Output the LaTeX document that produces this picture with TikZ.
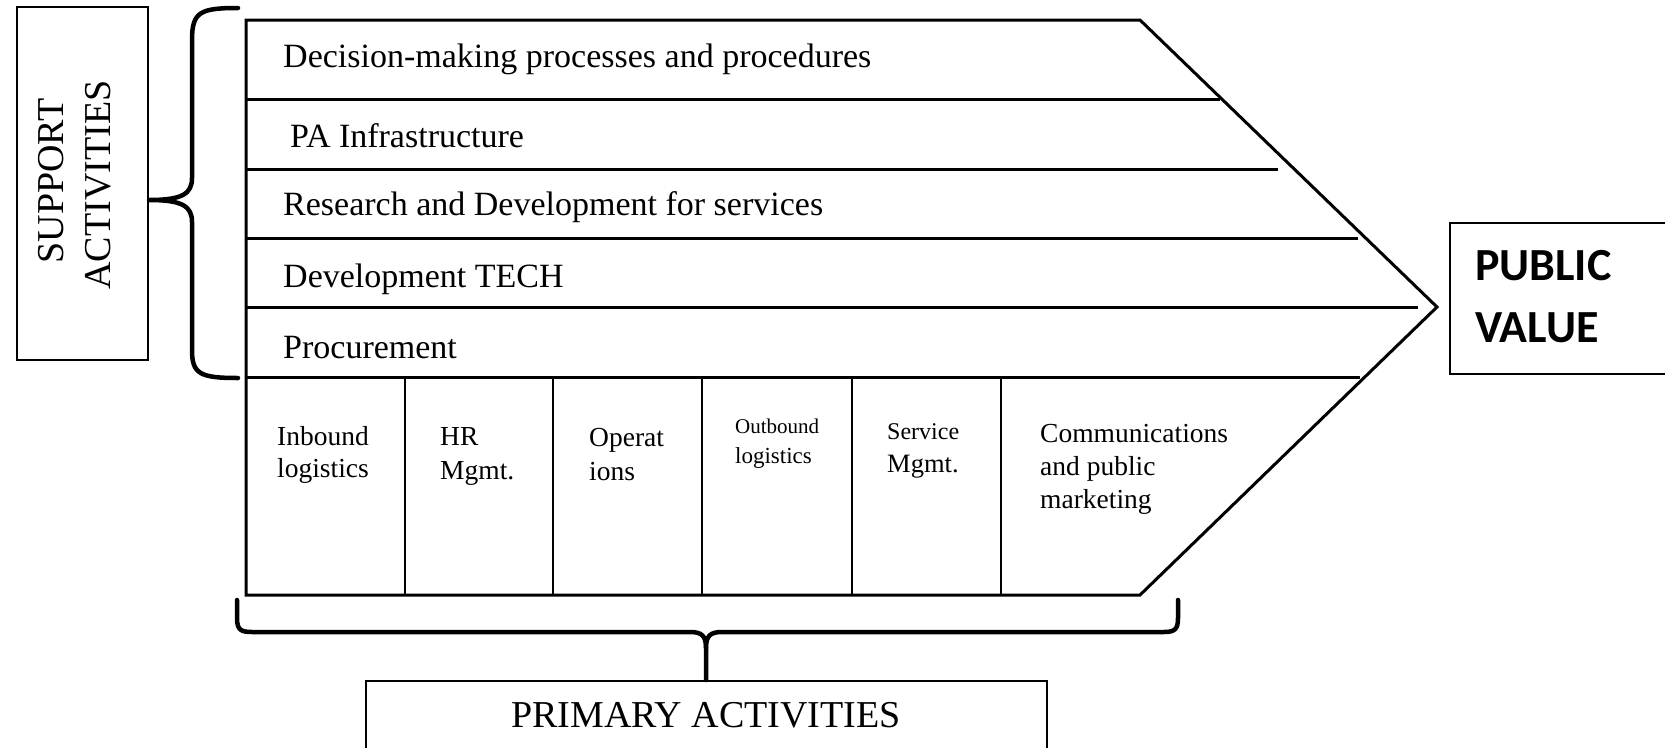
\documentclass[tikz,border=0pt]{standalone}
\usepackage{fontspec}
\setmainfont{Liberation Serif}
\newfontfamily\pvfont{Carlito}
\tikzset{
  frame/.style={draw, line width=2pt, inner sep=0pt},
  chain/.style={line width=3pt, line join=miter},
  divider/.style={line width=3pt},
  brace/.style={line width=4.5pt, line cap=round, line join=round},
  rowtxt/.style={anchor=base west, inner sep=0pt, font=\fontsize{34}{40}\selectfont},
  coltxt/.style={anchor=base west, inner sep=0pt, font=\fontsize{27.5}{33}\selectfont},
  bigtxt/.style={inner sep=0pt, font=\fontsize{38}{46}\selectfont},
  pvtxt/.style={anchor=base west, inner sep=0pt, font=\pvfont\bfseries\fontsize{46}{62}\selectfont},
}
\begin{document}
\begin{tikzpicture}[x=1pt,y=-1pt]
\useasboundingbox[fill=white] (0,0) rectangle (1665,747);

% boxes
\node[frame, minimum width=131pt, minimum height=353pt] (support) at (82.5,183.5) {};
\node[bigtxt, rotate=90, anchor=base] (suptxt1) at (63,181) {SUPPORT};
\node[bigtxt, rotate=90, anchor=base] (suptxt2) at (110,185) {ACTIVITIES};

\node[frame, minimum width=220pt, minimum height=151pt] (pv) at (1560,298.5) {};
\node[pvtxt] (pv1) at (1475,280) {PUBLIC};
\node[pvtxt] (pv2) at (1475,342) {VALUE};

\node[frame, minimum width=681pt, minimum height=80pt] (primary) at (706.5,721) {};
\node[bigtxt, anchor=base] (primtxt) at (706,727) {PRIMARY ACTIVITIES};

% value chain outline
\coordinate (tl) at (246,20);
\coordinate (tr) at (1140,20);
\coordinate (tip) at (1437,307);
\coordinate (br) at (1140,595);
\coordinate (bl) at (246,595);
\draw[chain] (tl) -- (tr) -- (tip) -- (br) -- (bl) -- cycle;

% support rows
\draw[divider] (246,99) -- (1220,99);
\draw[divider] (246,169) -- (1278,169);
\draw[divider] (246,238) -- (1358,238);
\draw[divider] (246,307) -- (1418,307);
\draw[divider] (246,377) -- (1360,377);

\node[rowtxt] (r1) at (283,67) {Decision-making processes and procedures};
\node[rowtxt] (r2) at (290,147) {PA Infrastructure};
\node[rowtxt] (r3) at (283,215) {Research and Development for services};
\node[rowtxt] (r4) at (283,287) {Development TECH};
\node[rowtxt] (r5) at (283,358) {Procurement};

% primary columns
\foreach \cx in {405,553,702,852,1001} {
  \draw[line width=2.5pt] (\cx,377) -- (\cx,595);
}
\node[coltxt] (c1a) at (277,445) {Inbound};
\node[coltxt] (c1b) at (277,477) {logistics};
\node[coltxt] (c2a) at (440,445) {HR};
\node[coltxt] (c2b) at (440,479) {Mgmt.};
\node[coltxt] (c3a) at (589,446) {Operat};
\node[coltxt] (c3b) at (589,480) {ions};
\node[coltxt, font=\fontsize{21}{26}\selectfont] (c4a) at (735,433) {Outbound};
\node[coltxt, font=\fontsize{23}{28}\selectfont] (c4b) at (735,463) {logistics};
\node[coltxt, font=\fontsize{24}{30}\selectfont] (c5a) at (887,439) {Service};
\node[coltxt, font=\fontsize{26.5}{32}\selectfont] (c5b) at (887,472) {Mgmt.};
\node[coltxt] (c6a) at (1040,442) {Communications};
\node[coltxt] (c6b) at (1040,475) {and public};
\node[coltxt] (c6c) at (1040,508) {marketing};

% left brace
\draw[brace] (238,8) .. controls (200,8) and (192,12) .. (192,40) -- (192,178)
  .. controls (192,194) and (182,200) .. (support.east |- 0,200)
  .. controls (182,200) and (192,206) .. (192,222) -- (192,350)
  .. controls (192,374) and (200,378) .. (238,378);

% bottom brace
\draw[brace] (237,600) -- (237,618) .. controls (237,630) and (241,632) .. (252,632) -- (690,632)
  .. controls (702,632) and (706,636) .. (706,648) -- (primary.north -| 706,0);
\draw[brace] (706,648) .. controls (706,636) and (710,632) .. (722,632) -- (1164,632)
  .. controls (1175,632) and (1178,629) .. (1178,618) -- (1178,600);
\end{tikzpicture}
\end{document}
